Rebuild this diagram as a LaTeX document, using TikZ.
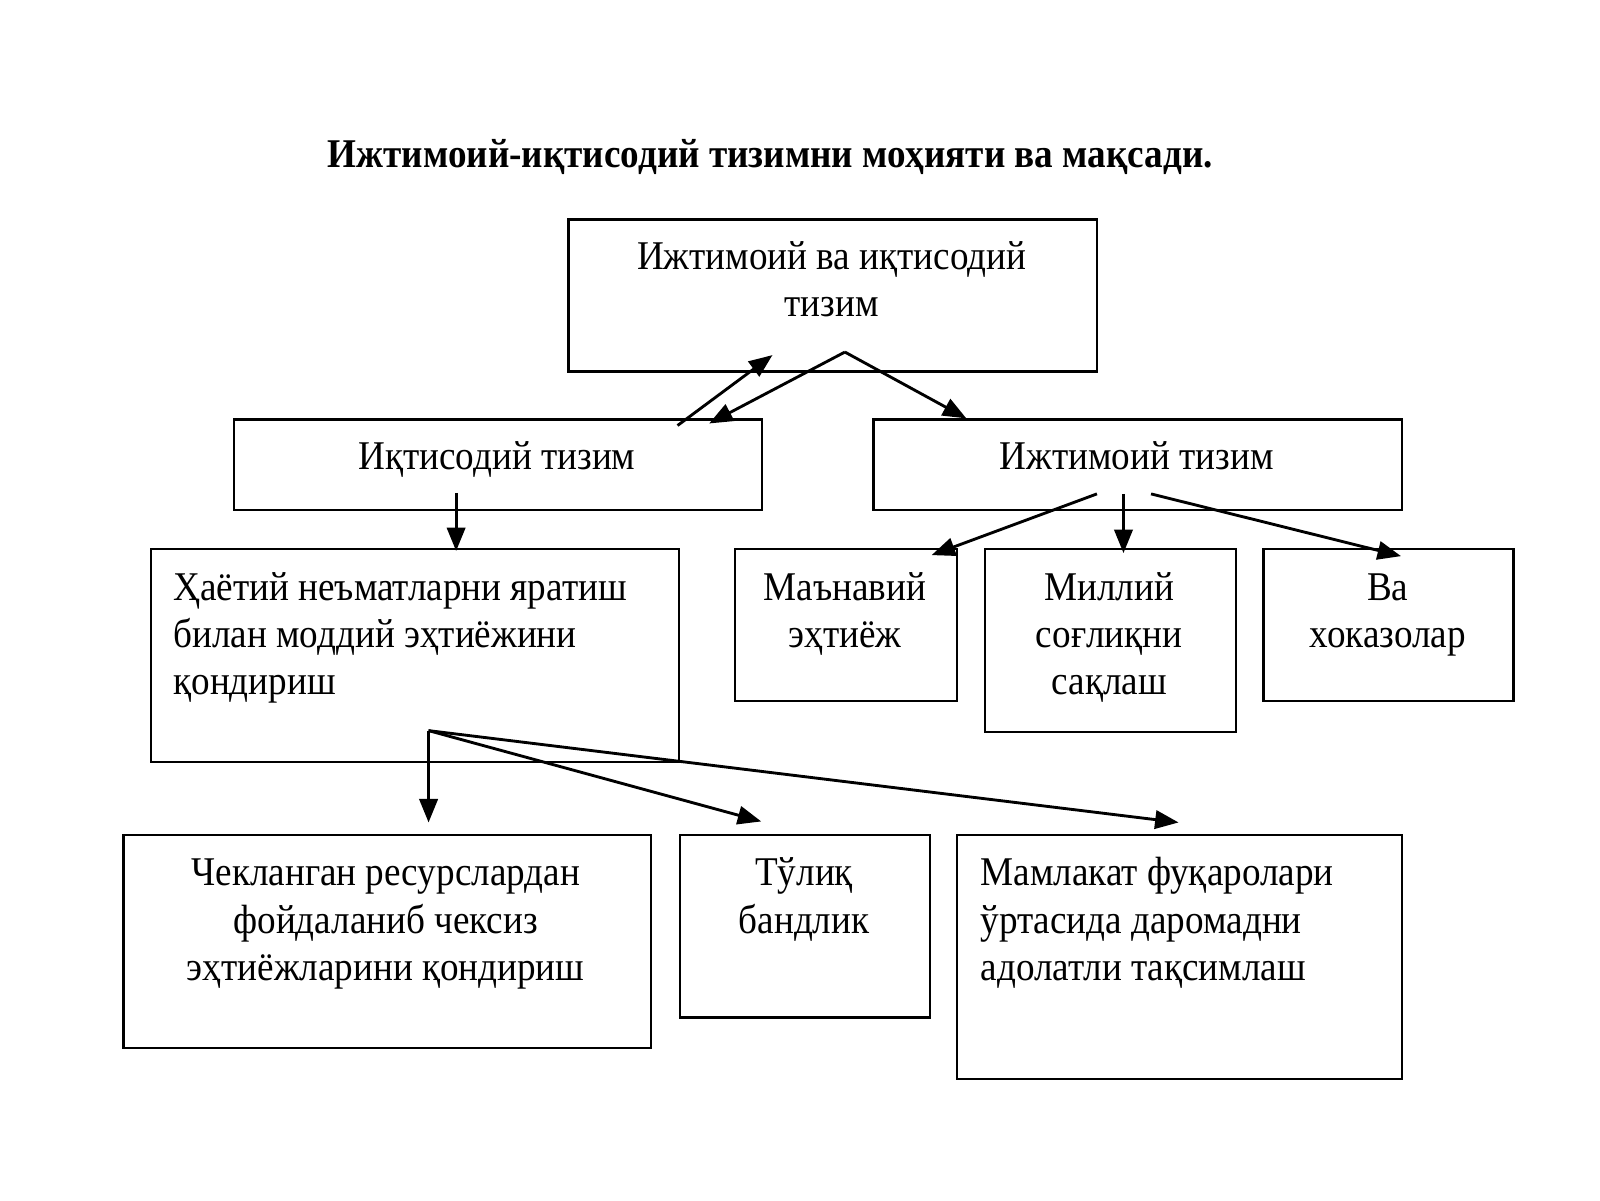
\documentclass[tikz,border=0pt]{standalone}
\usepackage{fontspec}
\setmainfont{Liberation Serif}[FakeStretch=0.91]
\usetikzlibrary{arrows.meta}

\begin{document}
\begin{tikzpicture}[x=1pt,y=-1pt,
            box/.style={draw,line width=2.2pt,anchor=north west,inner sep=0pt},
            txt/.style={anchor=base,inner sep=0pt,font=\fontsize{40}{46.5}\selectfont},
            arr/.style={-{Triangle[length=23pt,width=18pt]},line width=2.8pt}]
            \path[fill=white] (0,0) rectangle (1568,1176);
            \useasboundingbox (0,0) rectangle (1568,1176);
            % title
            \node[anchor=base,inner sep=0pt,font=\fontsize{40}{44}\selectfont\bfseries] (title) at (755,164) {Ижтимоий-иқтисодий тизимни моҳияти ва мақсади.};
            % boxes
            \node[box,minimum width=518pt,minimum height=149pt] (whole) at (556,214) {};
            \node[box,minimum width=518pt,minimum height=89pt] (econ) at (228,410) {};
            \node[box,minimum width=518pt,minimum height=89pt] (soc) at (855,410) {};
            \node[box,minimum width=517pt,minimum height=209pt] (life) at (147,537) {};
            \node[box,minimum width=218pt,minimum height=149pt] (spirit) at (719,537) {};
            \node[box,minimum width=246pt,minimum height=179pt] (health) at (964,537) {};
            \node[box,minimum width=245pt,minimum height=149pt] (etc) at (1237,537) {};
            \node[box,minimum width=517pt,minimum height=209pt] (limited) at (120,817) {};
            \node[box,minimum width=245pt,minimum height=179pt] (full) at (665,817) {};
            \node[box,minimum width=436pt,minimum height=239pt] (fair) at (937,817) {};
            % texts
            \node[txt] (whole text) at (815,264) {\parbox[t]{500pt}{\centering Ижтимоий ва иқтисодий\\тизим}};
            \node[txt] (econ text) at (487,460) {\parbox[t]{500pt}{\centering Иқтисодий тизим}};
            \node[txt] (soc text) at (1114,460) {\parbox[t]{500pt}{\centering Ижтимоий тизим}};
            \node[txt] (life text) at (415,588) {\parbox[t]{490pt}{\raggedright Ҳаётий неъматларни яратиш\\билан моддий эҳтиёжини\\қондириш}};
            \node[txt] (spirit text) at (828,588) {\parbox[t]{210pt}{\centering Маънавий\\эҳтиёж}};
            \node[txt] (health text) at (1087,588) {\parbox[t]{240pt}{\centering Миллий\\соғлиқни\\сақлаш}};
            \node[txt] (etc text) at (1360,588) {\parbox[t]{240pt}{\centering Ва\\хоказолар}};
            \node[txt] (limited text) at (378,868) {\parbox[t]{510pt}{\centering Чекланган ресурслардан\\фойдаланиб чексиз\\эҳтиёжларини қондириш}};
            \node[txt] (full text) at (788,868) {\parbox[t]{240pt}{\centering Тўлиқ\\бандлик}};
            \node[txt] (fair text) at (1161,868) {\parbox[t]{400pt}{\raggedright Мамлакат фуқаролари\\ўртасида даромадни\\адолатли тақсимлаш}};
            % arrow ends
            \coordinate (econ out) at (664,417);
            \coordinate (whole in) at (757,348);
            \coordinate (whole fork) at (828,345);
            \coordinate (econ in) at (695,415);
            \coordinate (soc in) at (947,410);
            \coordinate (econ fork) at (447,483);
            \coordinate (life in) at (447,540);
            \coordinate (soc out a) at (1075,484);
            \coordinate (soc out b) at (1101,484);
            \coordinate (soc out c) at (1128,484);
            \coordinate (spirit in) at (913,544);
            \coordinate (health in) at (1101,542);
            \coordinate (etc in) at (1373,545);
            \coordinate (life fork) at (420,716);
            \coordinate (limited in) at (420,806);
            \coordinate (full in) at (746,805);
            \coordinate (fair in) at (1155,806);
            % arrows
            \draw[arr] (econ out) -- (whole in);
            \draw[arr] (whole fork) -- (econ in);
            \draw[arr] (whole fork) -- (soc in);
            \draw[arr] (econ fork) -- (life in);
            \draw[arr] (soc out a) -- (spirit in);
            \draw[arr] (soc out b) -- (health in);
            \draw[arr] (soc out c) -- (etc in);
            \draw[arr] (life fork) -- (limited in);
            \draw[arr] (life fork) -- (full in);
            \draw[arr] (life fork) -- (fair in);
        \end{tikzpicture}
\end{document}
